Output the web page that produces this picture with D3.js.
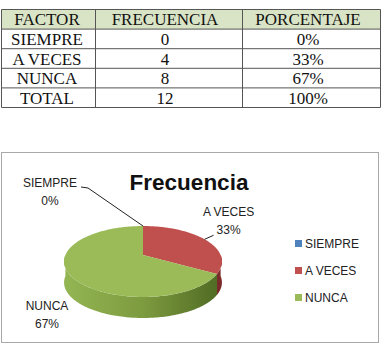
<!DOCTYPE html>
<html>
<head>
<meta charset="utf-8">
<script src="https://d3js.org/d3.v7.min.js"></script>
<style>
body {margin: 0; background: #fff;}
svg {display: block;}
.cell {font-family: "Liberation Serif", "Times New Roman", serif; font-size: 17px; fill: #111;}
.lbl {font-family: "Liberation Sans", Arial, sans-serif; font-size: 12px; fill: #222;}
</style>
</head>
<body>
<svg id="chart" width="385" height="351"></svg>
<script>
// table + pie data
var headers = ["FACTOR", "FRECUENCIA", "PORCENTAJE"];
var factors = ["SIEMPRE", "A VECES", "NUNCA"];
var frecuencia = [0, 4, 8];
var porcentaje = ["0%", "33%", "67%"];
var totalRow = ["TOTAL", "12", "100%"];
var colors = ["#4f81bd", "#c0504d", "#9bbb59"];

var svg = d3.select("#chart");

// ---------- table ----------
var colEdges = [1.5, 95.5, 242.5, 380.5];
var colText = [47, 165, 308];
var rows = [headers].concat(factors.map(function(f, i) {
  return [f, String(frecuencia[i]), porcentaje[i]];
})).concat([totalRow]);

var rowY = d3.scaleLinear().domain([0, rows.length]).range([9.5, 107.5]);

var table = svg.append("g");
table.append("rect")
  .attr("x", colEdges[0]).attr("y", rowY(0))
  .attr("width", colEdges[3] - colEdges[0]).attr("height", rowY(1) - rowY(0))
  .attr("fill", "#d9e4c6");

rows.forEach(function(r, i) {
  r.forEach(function(t, j) {
    table.append("text").attr("class", "cell")
      .attr("x", colText[j])
      .attr("y", (rowY(i) + rowY(i + 1)) / 2 + 6)
      .attr("text-anchor", "middle")
      .text(t);
  });
});
d3.range(rows.length + 1).forEach(function(i) {
  table.append("line")
    .attr("x1", colEdges[0]).attr("x2", colEdges[3])
    .attr("y1", rowY(i)).attr("y2", rowY(i))
    .attr("stroke", "#555").attr("stroke-width", 1);
});
colEdges.forEach(function(x) {
  table.append("line")
    .attr("x1", x).attr("x2", x)
    .attr("y1", rowY(0)).attr("y2", rowY(rows.length))
    .attr("stroke", "#555").attr("stroke-width", 1);
});

// ---------- chart box ----------
svg.append("rect")
  .attr("x", 1.5).attr("y", 152.5).attr("width", 377).attr("height", 190)
  .attr("fill", "#fff").attr("stroke", "#a8a8a8");

svg.append("text")
  .attr("x", 189).attr("y", 190)
  .attr("text-anchor", "middle")
  .style("font-family", "'Liberation Sans', Arial, sans-serif")
  .style("font-weight", "bold").style("font-size", "22.5px")
  .attr("fill", "#111")
  .text("Frecuencia");

// ---------- 3d pie ----------
var cx = 143, cy = 255, fx = 77.6, gy = 34.3, k = 0.183, depth = 21;
// angle measured clockwise from top, perspective tilt
function project(a) {
  var u = Math.sin(a), v = Math.cos(a), w = 1 + k * v;
  return [cx + fx * u / w, cy - gy * v / w];
}
function arcPts(a0, a1) {
  var n = Math.max(2, Math.ceil((a1 - a0) / 0.02));
  return d3.range(n + 1).map(function(i) { return project(a0 + (a1 - a0) * i / n); });
}

var pie = d3.pie().sort(null).value(function(d) { return d; });
var arcs = pie(frecuencia);

var defs = svg.append("defs");
var sideStops = [
  ["#93b552", "#7d9b3f", "#4f6a23"],
  ["#a84442", "#953735", "#7a2b29"]
];
[2, 1].forEach(function(ci, n) {
  var g = defs.append("linearGradient").attr("id", "side" + ci)
    .attr("gradientUnits", "userSpaceOnUse")
    .attr("x1", cx - fx).attr("x2", cx + fx).attr("y1", 0).attr("y2", 0);
  var st = ci === 2 ? sideStops[0] : sideStops[1];
  g.append("stop").attr("offset", 0).attr("stop-color", st[0]);
  g.append("stop").attr("offset", 0.5).attr("stop-color", st[1]);
  g.append("stop").attr("offset", 1).attr("stop-color", st[2]);
});

var line = d3.line();
var pieG = svg.append("g");

// sides first (front half only)
arcs.forEach(function(d, i) {
  if (d.value === 0) return;
  var a0 = Math.max(d.startAngle, Math.PI / 2), a1 = Math.min(d.endAngle, 3 * Math.PI / 2);
  if (a1 <= a0) return;
  var top = arcPts(a0, a1);
  var bot = top.slice().reverse().map(function(p) { return [p[0], p[1] + depth]; });
  pieG.append("path")
    .attr("d", line(top.concat(bot)) + "Z")
    .attr("fill", "url(#side" + i + ")");
});

// top faces
arcs.forEach(function(d, i) {
  if (d.value === 0) return;
  var pts = [[cx, cy]].concat(arcPts(d.startAngle, d.endAngle));
  pieG.append("path")
    .attr("d", line(pts) + "Z")
    .attr("fill", colors[i]);
});

// ---------- data labels ----------
var labelPos = [
  {dx: -93, dy: -39, lead: [[-55, -38], [-62, -39]]},
  {dx: 24, dy: -23, lead: [[9, -4]]},
  {dx: -22, dy: 36, lead: null}
];
arcs.forEach(function(d, i) {
  var mid = (d.startAngle + d.endAngle) / 2;
  var p = project(mid);
  var L = labelPos[i];
  if (L.lead) {
    var pts = [p].concat(L.lead.map(function(o) { return [p[0] + o[0], p[1] + o[1]]; }));
    svg.append("path").attr("d", line(pts))
      .attr("fill", "none").attr("stroke", "#222").attr("stroke-width", 1);
  }
  var t = svg.append("text").attr("class", "lbl").attr("text-anchor", "middle");
  t.append("tspan").attr("x", p[0] + L.dx).attr("y", p[1] + L.dy).text(factors[i]);
  t.append("tspan").attr("x", p[0] + L.dx).attr("y", p[1] + L.dy + 18).text(porcentaje[i]);
});

// ---------- legend ----------
var ly = d3.scalePoint().domain(factors).range([240, 294]);
var leg = svg.append("g").selectAll("g").data(factors).enter().append("g");
leg.append("rect")
  .attr("x", 295).attr("y", function(d) { return ly(d); })
  .attr("width", 7).attr("height", 7)
  .attr("fill", function(d, i) { return colors[i]; });
leg.append("text").attr("class", "lbl")
  .attr("x", 305).attr("y", function(d) { return ly(d) + 8; })
  .text(function(d) { return d; });
</script>
</body>
</html>
